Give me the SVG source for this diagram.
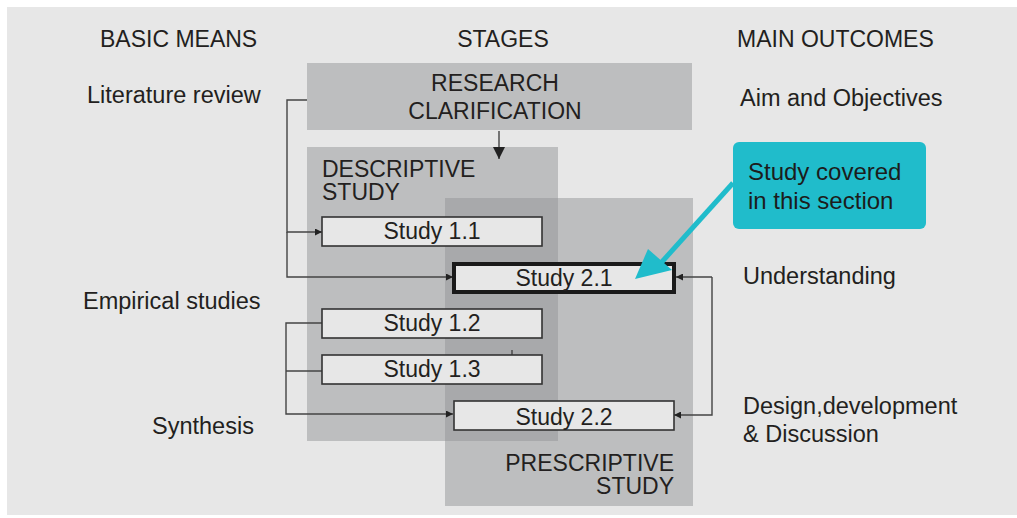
<svg xmlns="http://www.w3.org/2000/svg" width="1017" height="518" viewBox="0 0 1017 518">
  <style>
    text { font-family: "Liberation Sans", Arial, sans-serif; fill: #231f20; }
    .hdr { font-size: 23px; }
    .lbl { font-size: 23.5px; }
    .stage { font-size: 23px; }
    .box { fill: #e7e7e7; stroke: #333; stroke-width: 1.6; }
    .boxlbl { font-size: 23px; text-anchor: middle; }
    .conn { fill: none; stroke: #444; stroke-width: 1.4; }
    .call { font-size: 24px; fill: #1c1c1c; }
  </style>
  <defs>
    <marker id="arr" viewBox="0 0 10 10" refX="10" refY="5" markerWidth="7" markerHeight="7" markerUnits="userSpaceOnUse" orient="auto">
      <path d="M0,0 L10,5 L0,10 z" fill="#222"/>
    </marker>
    <marker id="arrBig" viewBox="0 0 10 10" refX="10" refY="5" markerWidth="12" markerHeight="14" markerUnits="userSpaceOnUse" orient="auto">
      <path d="M0,0 L10,5 L0,10 z" fill="#222"/>
    </marker>
  </defs>

  <!-- panel -->
  <rect x="7" y="7" width="1010" height="508" fill="#e7e7e7"/>

  <!-- column headers -->
  <text class="hdr" x="100" y="47">BASIC MEANS</text>
  <text class="hdr" x="503" y="47" text-anchor="middle">STAGES</text>
  <text class="hdr" x="737" y="47">MAIN OUTCOMES</text>

  <!-- stage areas -->
  <g id="research-clarification">
    <rect x="307" y="63" width="385" height="67" fill="#bdbebf"/>
    <text class="stage" x="495" y="91" text-anchor="middle">RESEARCH</text>
    <text class="stage" x="495" y="119" text-anchor="middle">CLARIFICATION</text>
  </g>
  <g id="descriptive-study">
    <rect x="307" y="147" width="251" height="294" fill="#bdbebf"/>
    <text class="stage" x="322" y="177">DESCRIPTIVE</text>
    <text class="stage" x="322" y="200">STUDY</text>
  </g>
  <g id="prescriptive-study">
    <rect x="445" y="198" width="248" height="308" fill="#bdbebf"/>
    <rect x="445" y="198" width="113" height="243" fill="#a8a9ab"/>
    <text class="stage" x="674" y="471" text-anchor="end">PRESCRIPTIVE</text>
    <text class="stage" x="674" y="494" text-anchor="end">STUDY</text>
  </g>

  <!-- means and outcomes -->
  <g id="means">
    <text class="lbl" x="87" y="103">Literature review</text>
    <text class="lbl" x="83" y="309">Empirical studies</text>
    <text class="lbl" x="152" y="434">Synthesis</text>
  </g>
  <g id="outcomes">
    <text class="lbl" x="740" y="106">Aim and Objectives</text>
    <text class="lbl" x="743" y="284">Understanding</text>
    <text class="lbl" x="743" y="414">Design,development</text>
    <text class="lbl" x="743" y="442">&amp; Discussion</text>
  </g>

  <!-- connectors -->
  <g id="connectors">
    <line class="conn" x1="499" y1="131" x2="499" y2="159" stroke-width="1.8" marker-end="url(#arrBig)"/>
    <polyline class="conn" points="307,100 287,100 287,232 322,232" marker-end="url(#arr)"/>
    <polyline class="conn" points="287,232 287,277 453,277" marker-end="url(#arr)"/>
    <polyline class="conn" points="322,323 286,323 286,414 453,414" marker-end="url(#arr)"/>
    <line class="conn" x1="286" y1="371" x2="322" y2="371"/>
    <polyline class="conn" points="712,277 712,415 674,415" marker-end="url(#arr)"/>
    <polyline class="conn" points="712,277 676,277" marker-end="url(#arr)"/>
    <line class="conn" x1="512" y1="350" x2="512" y2="355" stroke="#222"/>
  </g>

  <!-- study boxes -->
  <g id="study-1-1">
    <rect class="box" x="322" y="217" width="220" height="29"/>
    <text class="boxlbl" x="432" y="239">Study 1.1</text>
  </g>
  <g id="study-2-1">
    <rect x="454" y="264" width="220" height="28" fill="#e7e7e7" stroke="#1a1a1a" stroke-width="4"/>
    <text class="boxlbl" x="564" y="286">Study 2.1</text>
  </g>
  <g id="study-1-2">
    <rect class="box" x="322" y="309" width="220" height="29"/>
    <text class="boxlbl" x="432" y="331">Study 1.2</text>
  </g>
  <g id="study-1-3">
    <rect class="box" x="322" y="355" width="220" height="29"/>
    <text class="boxlbl" x="432" y="377">Study 1.3</text>
  </g>
  <g id="study-2-2">
    <rect class="box" x="454" y="401" width="220" height="29"/>
    <text class="boxlbl" x="564" y="425">Study 2.2</text>
  </g>

  <!-- callout -->
  <g id="callout">
    <rect x="733" y="142" width="193" height="87" rx="6" fill="#20bccb"/>
    <text class="call" x="748" y="180">Study covered</text>
    <text class="call" x="748" y="209">in this section</text>
    <line x1="733" y1="183" x2="660" y2="264" stroke="#20bccb" stroke-width="5"/>
    <path d="M635,279 L648,249 L672,270 z" fill="#20bccb"/>
  </g>
</svg>
